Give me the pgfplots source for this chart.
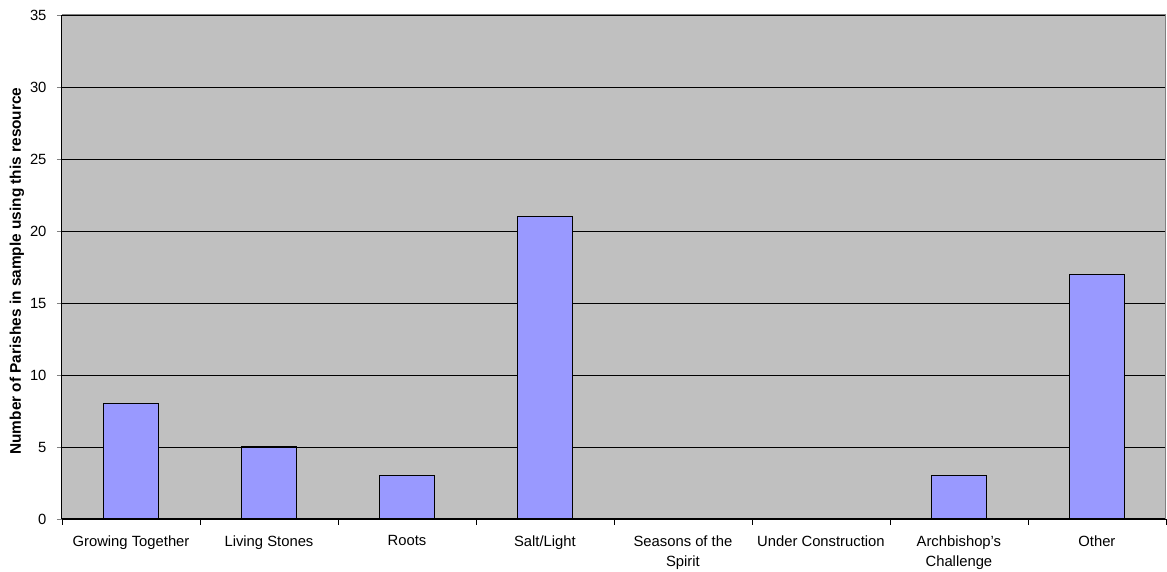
\documentclass[border=0pt]{standalone}
\usepackage{pgfplots}
\pgfplotsset{compat=1.18}
\usepackage{fontspec}
\setmainfont{Liberation Sans}
\definecolor{bg}{HTML}{C0C0C0}
\definecolor{barc}{HTML}{9999FF}
\begin{document}
\begin{tikzpicture}[x=1pt,y=1pt]
\useasboundingbox (-62pt,-53pt) rectangle (1105pt,519pt);
\begin{axis}[
  at={(0pt,0pt)}, anchor=south west,
  scale only axis,
  width=1104pt, height=504pt,
  xmin=-0.5, xmax=7.5, ymin=0, ymax=35,
  ytick={0,5,...,35},
  xtick={0,...,7},
  xticklabels={Growing Together, Living Stones, Roots, Salt/Light, {Seasons of the\\Spirit}, Under Construction, {Archbishop's\\Challenge}, Other},
  xticklabel style={align=center, font=\fontsize{14.8}{20}\selectfont, yshift=-8pt},
  yticklabel style={font=\fontsize{14.8}{18}\selectfont, xshift=-7pt},
  /pgf/number format/assume math mode=true,
  major x tick style={draw=none},
  minor xtick={-0.5,0.5,...,7.5},
  minor x tick style={black},
  minor tick length=6pt,
  major tick length=5pt,
  tick align=outside,
  tick pos=left,
  axis x line*=bottom, axis y line*=left,
  axis line style={black, line width=1pt},
  ymajorgrids, grid style={black, line width=0.8pt},
  axis background/.style={fill=bg},
  ylabel={\bfseries Number of Parishes in sample using this resource},
  every axis y label/.style={at={(axis description cs:-0.0408,0.492)}, rotate=90, anchor=center},
  ylabel style={font=\fontsize{15.4}{18}\selectfont},
  ybar, bar width=0.4,
  clip=false,
]
\addplot[fill=barc, draw=black, line width=1.1pt] coordinates {(0,8) (1,5) (2,3) (3,21) (6,3) (7,17)};
\draw[gray, line width=1pt] (rel axis cs:0,1) -- (rel axis cs:1,1) -- (rel axis cs:1,0);
\end{axis}
\end{tikzpicture}
\end{document}
